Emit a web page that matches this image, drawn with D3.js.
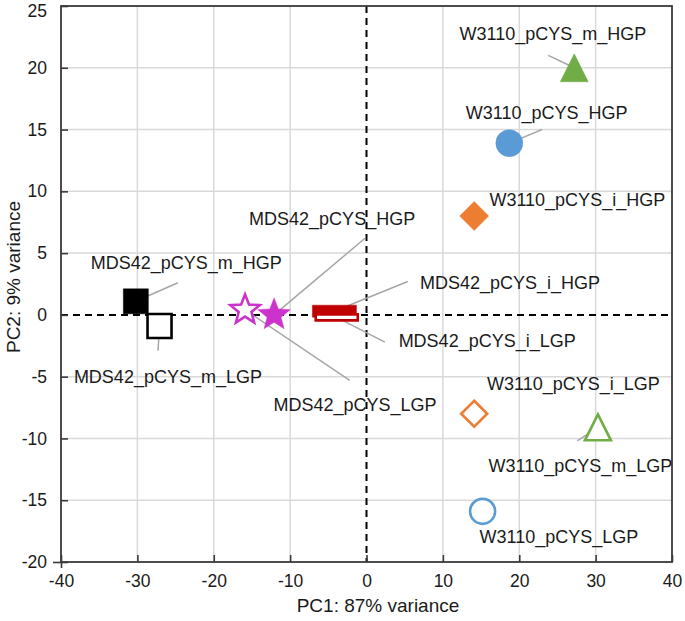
<!DOCTYPE html>
<html><head><meta charset="utf-8">
<script src="https://cdn.jsdelivr.net/npm/d3@7"></script>
<style>body{margin:0;background:#fff}svg{display:block}text{font-family:"Liberation Sans",Arial,sans-serif;fill:#1a1a1a}</style>
</head><body><svg id="c" width="685" height="621"></svg>
<script>
const names = ["MDS42_pCYS_m_HGP","MDS42_pCYS_m_LGP","MDS42_pCYS_LGP","MDS42_pCYS_HGP","MDS42_pCYS_i_HGP","MDS42_pCYS_i_LGP","W3110_pCYS_m_HGP","W3110_pCYS_HGP","W3110_pCYS_i_HGP","W3110_pCYS_i_LGP","W3110_pCYS_m_LGP","W3110_pCYS_LGP"];
const pc1 = [-30.2,-27.1,-15.9,-12.1,-4.2,-3.9,27.2,18.7,14.1,14.1,30.3,15.2];
const pc2 = [1.1,-0.9,0.4,0.0,0.3,-0.2,20.0,13.9,8.0,-8.0,-9.1,-15.9];
const shapes = ["square","square","star","star","dash","dash","triangle","circle","diamond","diamond","triangle","circle"];
const filled = [true,false,false,true,true,false,true,true,true,false,false,false];
const colors = ["#000000","#000000","#cc33cc","#cc33cc","#c00000","#c00000","#70ad47","#5b9bd5","#ed7d31","#ed7d31","#70ad47","#5b9bd5"];
// label centres and leader-line start points, in data units
const labelX = [-23.6,-26.0,-1.5,-4.5,18.8,15.8,24.4,23.6,27.6,27.1,28.0,25.2];
const labelY = [4.2,-5.0,-7.3,7.8,2.6,-2.1,22.7,16.3,9.3,-5.6,-12.2,-18.0];
const leadX = [-24.7,-27.3,-2.2,-0.2,5.4,2.4,23.8,23.0,null,null,27.6,null];
const leadY = [2.6,-2.9,-5.3,6.2,2.7,-2.2,21.0,15.0,null,null,-10.2,null];
const xTicks = [-40,-30,-20,-10,0,10,20,30,40];
const yTicks = [-20,-15,-10,-5,0,5,10,15,20,25];

const svg = d3.select("#c");
const L=61,R=672,T=6,B=562;
const x = d3.scaleLinear().domain([-40,40]).range([L,R]);
const y = d3.scaleLinear().domain([-20,25]).range([B,T]);

svg.append("g").selectAll("line").data(xTicks.filter(d=>d>-40&&d<40&&d!==0)).join("line")
  .attr("x1",d=>x(d)).attr("x2",d=>x(d)).attr("y1",T).attr("y2",B).attr("stroke","#d9d9d9").attr("stroke-width",1.5);
svg.append("g").selectAll("line").data(yTicks.filter(d=>d>-20&&d<25&&d!==0)).join("line")
  .attr("y1",d=>y(d)).attr("y2",d=>y(d)).attr("x1",L).attr("x2",R).attr("stroke","#d9d9d9").attr("stroke-width",1.5);

svg.append("line").attr("x1",x(0)).attr("x2",x(0)).attr("y1",T).attr("y2",B).attr("stroke","#000").attr("stroke-width",2).attr("stroke-dasharray","7,5");
svg.append("line").attr("x1",L).attr("x2",R).attr("y1",y(0)).attr("y2",y(0)).attr("stroke","#000").attr("stroke-width",2).attr("stroke-dasharray","7,5");

svg.append("rect").attr("x",L).attr("y",T).attr("width",R-L).attr("height",B-T).attr("fill","none").attr("stroke","#3a3a3a").attr("stroke-width",1.8);

const fmt = d=>String(d);
const xa = svg.append("g").attr("transform",`translate(0,${B})`).call(d3.axisBottom(x).tickValues(xTicks).tickSize(-7).tickPadding(13).tickFormat(fmt));
const ya = svg.append("g").attr("transform",`translate(${L},0)`).call(d3.axisLeft(y).tickValues(yTicks).tickSize(-7).tickPadding(14).tickFormat(fmt));
[xa,ya].forEach(a=>{a.select(".domain").remove();a.selectAll("line").attr("stroke","#3a3a3a").attr("stroke-width",1.6);a.selectAll("text").attr("font-size","17.5px").attr("fill","#1a1a1a").attr("font-family","Liberation Sans, Arial, sans-serif");});
ya.selectAll(".tick").filter(d=>d===25).select("text").attr("dy","0.62em");
ya.selectAll(".tick").filter(d=>d===-20).append("line").attr("x1",-8).attr("x2",0).attr("stroke","#3a3a3a").attr("stroke-width",1.6);
xa.selectAll(".tick").filter(d=>d===-40).append("line").attr("y1",0).attr("y2",6).attr("stroke","#3a3a3a").attr("stroke-width",1.6);

svg.append("text").attr("x",378).attr("y",612).attr("text-anchor","middle").attr("font-size","19px").text("PC1: 87% variance");
svg.append("text").attr("transform",`translate(13,${(T+B)/2-7}) rotate(-90)`).attr("text-anchor","middle").attr("dominant-baseline","central").attr("font-size","19px").text("PC2: 9% variance");

const idx = d3.range(names.length);
svg.append("g").selectAll("line").data(idx.filter(i=>leadX[i]!==null)).join("line")
  .attr("x1",i=>x(leadX[i])).attr("y1",i=>y(leadY[i])).attr("x2",i=>x(pc1[i])).attr("y2",i=>y(pc2[i]))
  .attr("stroke","#a6a6a6").attr("stroke-width",1.5);

function starPath(ro,ri){let p=[];for(let k=0;k<10;k++){const a=-Math.PI/2+k*Math.PI/5;const r=k%2?ri:ro;p.push([r*Math.cos(a),r*Math.sin(a)]);}return "M"+p.map(q=>q.join(",")).join("L")+"Z";}
function shapePath(s,f){
  switch(s){
    case "square": return f?"M-12.5,-12.5H12.5V12.5H-12.5Z":"M-12,-12H12V12H-12Z";
    case "star": return f?starPath(17,7.3):starPath(15.5,6.7);
    case "dash": return f?"M-22,-6H22V6H-22Z":"M-21,-3H21V3H-21Z";
    case "triangle": return f?"M0,-14L14,14H-14Z":"M0,-13L13,13H-13Z";
    case "circle": return f?"M13.5,0A13.5,13.5 0 1,1 -13.5,0A13.5,13.5 0 1,1 13.5,0Z":"M12.5,0A12.5,12.5 0 1,1 -12.5,0A12.5,12.5 0 1,1 12.5,0Z";
    case "diamond": return f?"M0,-14.5L14.5,0L0,14.5L-14.5,0Z":"M0,-13L13,0L0,13L-13,0Z";
  }
}
svg.append("g").selectAll("path").data(idx).join("path")
  .attr("transform",i=>`translate(${x(pc1[i])},${y(pc2[i])})`)
  .attr("d",i=>shapePath(shapes[i],filled[i]))
  .attr("fill",i=>filled[i]?colors[i]:"#fff")
  .attr("stroke",i=>colors[i])
  .attr("stroke-width",i=>filled[i]?0.5:2.6);

svg.append("g").selectAll("text").data(idx).join("text")
  .attr("x",i=>x(labelX[i])).attr("y",i=>y(labelY[i])).attr("text-anchor","middle").attr("dominant-baseline","central")
  .attr("font-size","18px").text(i=>names[i]);
</script></body></html>
